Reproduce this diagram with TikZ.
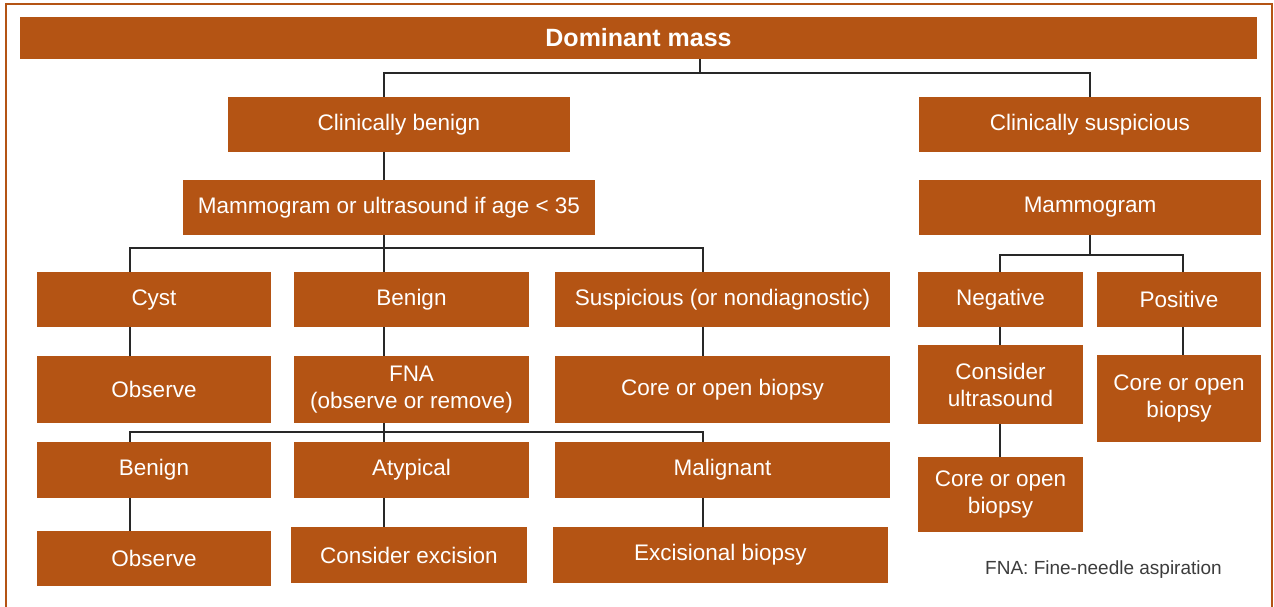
\documentclass[tikz,border=0pt]{standalone}
\usepackage{fontspec}
\setmainfont{Liberation Sans}
\definecolor{boxorange}{RGB}{180,84,20}
\definecolor{lineblack}{RGB}{40,40,40}
\definecolor{notegray}{RGB}{60,60,60}
\begin{document}
\begin{tikzpicture}[x=1pt,y=-1pt,
  box/.style={fill=boxorange, draw=none, text=white, inner sep=0pt, align=center,
    font=\fontsize{22.5}{27}\selectfont},
  conn/.style={draw=lineblack, line width=2.8pt},
  frame/.style={draw=boxorange, line width=2pt}]
\useasboundingbox (0,0) rectangle (1274,607);
\draw[frame] (6,607) -- (6,4) -- (1272,4) -- (1272,607);

% boxes
\node[box, minimum width=1237pt, minimum height=42pt, font=\fontsize{25}{30}\selectfont\bfseries] (dm) at (638.5,38) {Dominant mass};
\node[box, minimum width=342pt, minimum height=55pt] (cb) at (399,124.5) {Clinically benign};
\node[box, minimum width=342pt, minimum height=55pt] (cs) at (1090,124.5) {Clinically suspicious};
\node[box, minimum width=412pt, minimum height=55pt] (mu) at (389,207.5) {Mammogram or ultrasound if age < 35};
\node[box, minimum width=342pt, minimum height=55pt] (mr) at (1090,207.5) {Mammogram};

\node[box, minimum width=234pt, minimum height=55pt] (cyst) at (154,299.5) {Cyst};
\node[box, minimum width=235pt, minimum height=55pt] (ben) at (411.5,299.5) {Benign};
\node[box, minimum width=335pt, minimum height=55pt] (susp) at (722.5,299.5) {Suspicious (or nondiagnostic)};
\node[box, minimum width=165pt, minimum height=55pt] (neg) at (1000.5,299.5) {Negative};
\node[box, minimum width=164pt, minimum height=55pt] (pos) at (1179,299.5) {Positive};

\node[box, minimum width=234pt, minimum height=67pt] (obs1) at (154,389.5) {Observe};
\node[box, minimum width=235pt, minimum height=67pt] (fna) at (411.5,389.5) {FNA\\(observe or remove)};
\node[box, minimum width=335pt, minimum height=67pt] (core1) at (722.5,389.5) {Core or open biopsy};
\node[box, minimum width=165pt, minimum height=79pt] (cu) at (1000.5,384.5) {Consider\\ultrasound};
\node[box, minimum width=164pt, minimum height=87pt] (core2) at (1179,398.5) {Core or open\\biopsy};

\node[box, minimum width=234pt, minimum height=56pt] (ben2) at (154,470) {Benign};
\node[box, minimum width=235pt, minimum height=56pt] (aty) at (411.5,470) {Atypical};
\node[box, minimum width=335pt, minimum height=56pt] (mal) at (722.5,470) {Malignant};
\node[box, minimum width=165pt, minimum height=75pt] (core3) at (1000.5,494.5) {Core or open\\biopsy};

\node[box, minimum width=234pt, minimum height=55pt] (obs2) at (154,558.5) {Observe};
\node[box, minimum width=236pt, minimum height=56pt] (exc) at (409,555) {Consider excision};
\node[box, minimum width=335pt, minimum height=56pt] (ebx) at (720.5,555) {Excisional biopsy};

\node[text=notegray, font=\fontsize{19}{23}\selectfont, inner sep=0pt] (note) at (1103.5,570) {FNA: Fine-needle aspiration};

% column coordinates
\coordinate (X130) at (130,0);
\coordinate (X384) at (384,0);
\coordinate (X703) at (703,0);
\coordinate (X1000) at (1000,0);
\coordinate (X1090) at (1090,0);
\coordinate (X1183) at (1183,0);
\coordinate (bus1) at (700,73);
\coordinate (bus2) at (384,248);
\coordinate (bus3) at (1090,255);
\coordinate (bus4) at (384,432);

% connectors
\draw[conn] (dm.south -| bus1) -- (bus1);
\draw[conn] (cb.north -| X384) |- (bus1) -| (cs.north -| X1090);
\draw[conn] (cb.south -| X384) -- (mu.north -| X384);
\draw[conn] (mu.south -| X384) -- (bus2);
\draw[conn] (cyst.north -| X130) |- (bus2) -| (susp.north -| X703);
\draw[conn] (bus2) -- (ben.north -| X384);
\draw[conn] (mr.south -| X1090) -- (bus3);
\draw[conn] (neg.north -| X1000) |- (bus3) -| (pos.north -| X1183);

\draw[conn] (cyst.south -| X130) -- (obs1.north -| X130);
\draw[conn] (ben.south -| X384) -- (fna.north -| X384);
\draw[conn] (susp.south -| X703) -- (core1.north -| X703);
\draw[conn] (neg.south -| X1000) -- (cu.north -| X1000);
\draw[conn] (pos.south -| X1183) -- (core2.north -| X1183);
\draw[conn] (cu.south -| X1000) -- (core3.north -| X1000);

\draw[conn] (fna.south -| X384) -- (bus4);
\draw[conn] (ben2.north -| X130) |- (bus4) -| (mal.north -| X703);
\draw[conn] (bus4) -- (aty.north -| X384);

\draw[conn] (ben2.south -| X130) -- (obs2.north -| X130);
\draw[conn] (aty.south -| X384) -- (exc.north -| X384);
\draw[conn] (mal.south -| X703) -- (ebx.north -| X703);
\end{tikzpicture}
\end{document}
